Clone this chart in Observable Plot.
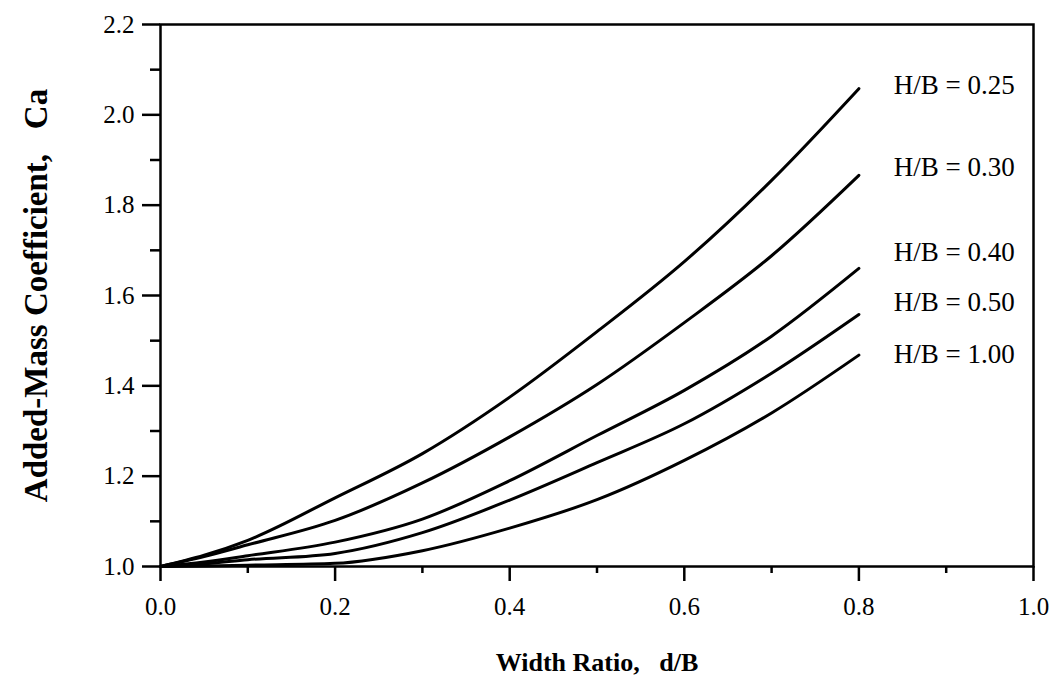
<!DOCTYPE html>
<html>
<head>
<meta charset="utf-8">
<script src="https://cdn.jsdelivr.net/npm/d3@7"></script>
<script src="https://cdn.jsdelivr.net/npm/@observablehq/plot@0.6"></script>
<style>
  html, body { margin: 0; padding: 0; background: #fff; }
  #chart svg { display: block; }
</style>
</head>
<body>
<div id="chart"></div>
<script>
// Series: H/B ratio curves
const seriesNames = ["H/B = 0.25", "H/B = 0.30", "H/B = 0.40", "H/B = 0.50", "H/B = 1.00"];

const widthRatio = [0, 0.05, 0.1, 0.2, 0.3, 0.4, 0.5, 0.6, 0.7, 0.8];
const ca025 = [1.0, 1.025, 1.058, 1.152, 1.25, 1.375, 1.52, 1.675, 1.855, 2.058];
const ca030 = [1.0, 1.022, 1.048, 1.102, 1.185, 1.287, 1.403, 1.54, 1.688, 1.866];
const ca040 = [1.0, 1.010, 1.024, 1.054, 1.105, 1.19, 1.29, 1.39, 1.51, 1.66];
const ca050 = [1.0, 1.006, 1.015, 1.029, 1.075, 1.147, 1.23, 1.316, 1.428, 1.558];
const ca100 = [1.0, 1.001, 1.003, 1.007, 1.035, 1.085, 1.148, 1.235, 1.34, 1.468];

// Curve label placement (data coordinates)
const labelX = [0.84, 0.84, 0.84, 0.84, 0.84];
const labelY = [2.065, 1.883, 1.695, 1.584, 1.469];

// Ticks
const xMajor = [0, 0.2, 0.4, 0.6, 0.8, 1.0];
const xMinor = [0.1, 0.3, 0.5, 0.7, 0.9];
const yMajor = [1.0, 1.2, 1.4, 1.6, 1.8, 2.0, 2.2];
const yMinor = [1.1, 1.3, 1.5, 1.7, 1.9, 2.1];

const xTitle = "Width Ratio,\u00a0\u00a0 d/B";
const yTitle = "Added-Mass Coefficient,\u00a0\u00a0 Ca";

const allY = [ca025, ca030, ca040, ca050, ca100];
const data = [];
seriesNames.forEach((s, i) => {
  widthRatio.forEach((x, j) => data.push({series: s, x, y: allY[i][j]}));
});
const labels = seriesNames.map((s, i) => ({text: s, x: labelX[i], y: labelY[i]}));
const fmt = d3.format(".1f");

const chart = Plot.plot({
  width: 1054,
  height: 690,
  marginLeft: 160,
  marginRight: 21,
  marginTop: 24,
  marginBottom: 124,
  style: {fontFamily: "'Liberation Serif', 'Times New Roman', serif", color: "#000", background: "#fff"},
  x: {domain: [0, 1]},
  y: {domain: [1, 2.2]},
  marks: [
    Plot.frame({stroke: "#000", strokeWidth: 2.5}),
    Plot.axisX({ticks: xMajor, tickSize: 15, text: null, strokeWidth: 2.5, label: null}),
    Plot.axisX({ticks: xMinor, tickSize: 7, text: null, strokeWidth: 2.5, label: null}),
    Plot.axisY({ticks: yMajor, tickSize: 18, text: null, strokeWidth: 2.5, label: null}),
    Plot.axisY({ticks: yMinor, tickSize: 10, text: null, strokeWidth: 2.5, label: null}),
    Plot.text(xMajor, {x: d => d, frameAnchor: "bottom", dy: 40, text: d => fmt(d), fontSize: 25, lineAnchor: "middle", textAnchor: "middle"}),
    Plot.text(yMajor, {y: d => d, frameAnchor: "left", dx: -26, text: d => fmt(d), fontSize: 25, lineAnchor: "middle", textAnchor: "end"}),
    Plot.line(data, {x: "x", y: "y", z: "series", stroke: "#000", strokeWidth: 3, curve: "monotone-x"}),
    Plot.text(labels, {x: "x", y: "y", text: "text", textAnchor: "start", fontSize: 27, lineAnchor: "middle"}),
    Plot.text([xTitle], {frameAnchor: "bottom", dy: 96, fontSize: 26, fontWeight: "bold", textAnchor: "middle", lineAnchor: "middle", letterSpacing: 1}),
    Plot.text([yTitle], {frameAnchor: "left", dx: -124, rotate: -90, fontSize: 33, fontWeight: "bold", textAnchor: "middle", lineAnchor: "middle", letterSpacing: 3})
  ]
});
document.getElementById("chart").appendChild(chart);
</script>
</body>
</html>
